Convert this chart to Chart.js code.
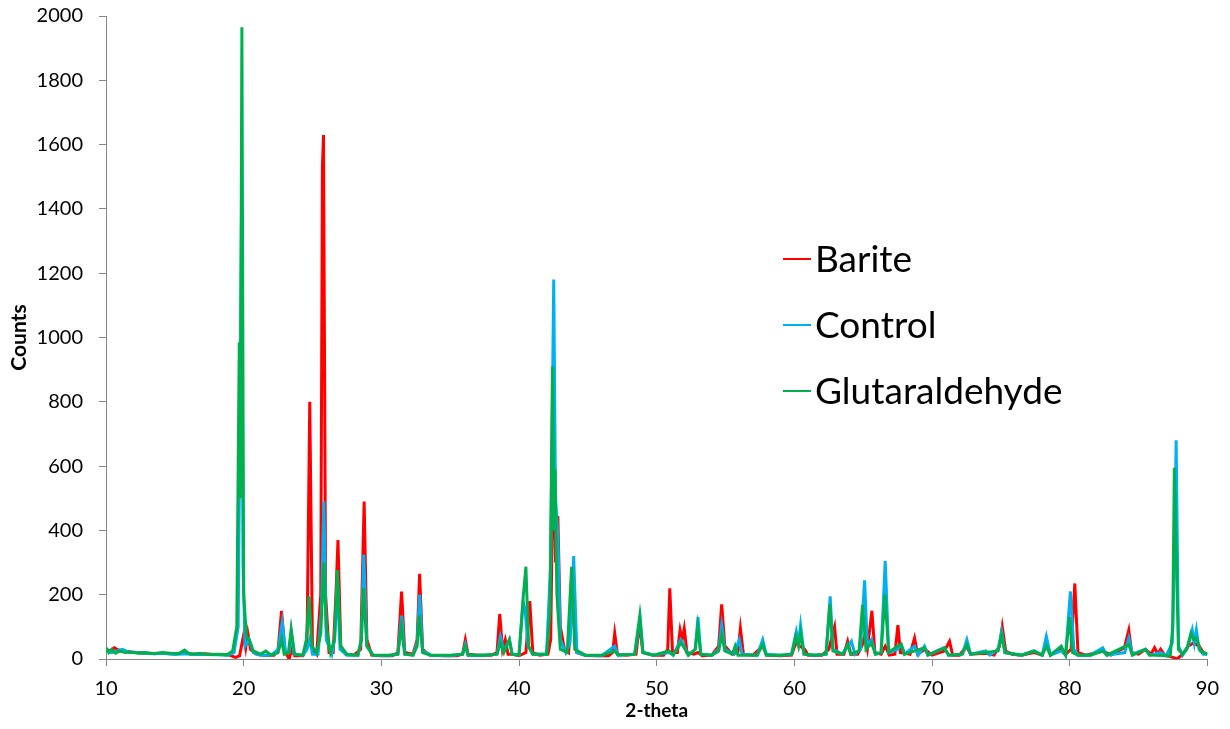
<!DOCTYPE html>
<html>
<head>
<meta charset="utf-8">
<script src="https://cdn.jsdelivr.net/npm/chart.js@4"></script>
<style>
  html, body { margin: 0; padding: 0; background: #fff; }
  #wrap { width: 1230px; height: 729px; position: relative; }
</style>
</head>
<body>
<div id="wrap"><canvas id="c" width="1230" height="729"></canvas></div>
<script>
// ---- Data (2-theta, counts) ----
const seriesNames = ["Barite", "Control", "Glutaraldehyde"];
const seriesColors = ["#FF0000", "#00B0F0", "#00B050"];
const xTickLabels = [10, 20, 30, 40, 50, 60, 70, 80, 90];
const yTickLabels = [0, 200, 400, 600, 800, 1000, 1200, 1400, 1600, 1800, 2000];

const barite = [
  [10.0,30],[10.3,25],[10.6,35],[10.9,28],[11.3,25],[11.8,22],[12.3,20],[12.8,18],[13.4,17],[14.0,18],
  [14.6,16],[15.2,17],[15.8,18],[16.5,15],[17.2,16],[17.8,14],[18.5,14],[19.0,12],[19.4,5],[19.7,10],
  [20.0,75],[20.15,35],[20.3,80],[20.5,30],[20.9,15],[21.5,12],[22.2,12],[22.5,30],[22.75,150],[23.0,25],
  [23.3,0],[23.5,30],[23.7,10],[24.3,10],[24.6,40],[24.8,800],[25.0,30],[25.3,15],[25.6,200],[25.72,1530],
  [25.8,1630],[25.95,200],[26.2,20],[26.5,20],[26.7,200],[26.85,370],[27.05,40],[27.4,15],[28.0,12],[28.5,30],
  [28.75,490],[28.95,60],[29.3,12],[30.0,10],[30.8,10],[31.2,20],[31.47,210],[31.7,20],[32.3,15],[32.6,60],
  [32.78,265],[33.0,30],[33.5,12],[34.5,10],[35.5,10],[35.9,15],[36.1,60],[36.3,15],[37.0,12],[38.0,12],
  [38.4,20],[38.6,140],[38.8,30],[39.0,60],[39.2,15],[39.5,15],[40.0,10],[40.5,20],[40.78,180],[41.0,20],
  [41.5,12],[42.1,15],[42.3,60],[42.5,700],[42.65,300],[42.82,445],[43.0,100],[43.3,30],[43.6,20],[43.95,200],
  [44.2,20],[44.8,12],[45.5,10],[46.5,10],[46.8,20],[46.95,80],[47.15,15],[47.8,12],[48.5,15],[48.75,110],
  [49.0,20],[49.7,12],[50.5,12],[50.8,30],[50.95,220],[51.15,20],[51.5,20],[51.7,90],[51.85,60],[52.0,95],
  [52.2,20],[52.7,15],[53.0,20],[53.3,10],[54.0,12],[54.5,40],[54.72,170],[54.95,40],[55.5,15],[55.9,20],
  [56.08,95],[56.3,15],[57.0,12],[57.7,40],[58.0,12],[59.0,10],[59.8,12],[60.1,50],[60.4,40],[60.75,30],
  [61.0,12],[62.0,12],[62.5,30],[62.92,100],[63.1,15],[63.6,15],[63.87,55],[64.1,15],[64.6,15],[64.9,40],
  [65.1,70],[65.3,30],[65.63,150],[65.85,20],[66.3,15],[66.6,40],[66.9,12],[67.3,15],[67.52,105],[67.7,20],
  [68.4,15],[68.73,65],[68.95,15],[69.5,30],[70.0,12],[70.9,25],[71.27,55],[71.5,12],[72.0,12],[72.5,40],
  [72.8,15],[73.9,18],[74.5,12],[74.9,40],[75.1,100],[75.35,25],[75.8,15],[76.5,12],[77.4,20],[78.0,12],
  [78.3,50],[78.6,12],[79.38,35],[79.7,15],[80.1,30],[80.37,235],[80.6,20],[81.2,12],[82.4,25],[83.0,12],
  [83.97,35],[84.29,90],[84.5,20],[85.0,15],[85.5,30],[85.9,15],[86.16,35],[86.4,15],[86.6,30],[86.9,12],
  [87.5,5],[87.8,0],[88.2,15],[88.6,40],[89.0,50],[89.4,40],[89.7,20],[90.0,15]
];

const control = [
  [10.0,25],[10.4,20],[10.8,25],[11.2,30],[11.6,22],[12.2,20],[12.8,18],[13.5,16],[14.2,18],[15.0,14],
  [15.8,16],[16.5,14],[17.2,14],[18.0,13],[18.8,12],[19.3,20],[19.6,100],[19.75,850],[19.85,1440],[19.95,300],
  [20.1,40],[20.4,60],[20.7,20],[21.2,12],[22.0,12],[22.5,30],[22.8,115],[23.05,20],[23.3,20],[23.45,85],
  [23.65,15],[24.3,12],[24.6,30],[24.8,60],[25.0,15],[25.4,15],[25.65,150],[25.82,490],[26.0,60],[26.4,15],
  [26.6,60],[26.8,230],[27.0,30],[27.5,12],[28.3,12],[28.55,60],[28.72,325],[28.95,40],[29.4,12],[30.5,10],
  [31.2,15],[31.47,135],[31.7,15],[32.3,12],[32.6,50],[32.78,200],[33.0,25],[33.6,12],[35.0,10],[35.9,15],
  [36.1,45],[36.3,12],[37.5,12],[38.4,15],[38.65,70],[38.9,25],[39.3,60],[39.5,15],[40.0,12],[40.3,180],
  [40.45,150],[40.65,40],[41.0,15],[42.0,15],[42.3,300],[42.52,1180],[42.65,500],[42.82,380],[43.0,60],[43.4,20],
  [43.7,50],[43.97,320],[44.2,20],[44.8,12],[46.0,10],[46.95,40],[47.2,12],[48.4,15],[48.8,125],[49.0,20],
  [49.8,12],[50.9,20],[51.2,12],[51.75,60],[52.0,40],[52.3,12],[52.8,30],[53.0,130],[53.2,15],[54.0,12],
  [54.5,30],[54.72,105],[54.95,30],[55.6,15],[56.0,60],[56.2,15],[57.3,12],[57.7,60],[57.95,15],[59.0,12],
  [59.8,15],[60.14,85],[60.3,50],[60.45,105],[60.7,15],[61.5,12],[62.3,15],[62.6,195],[62.8,30],[63.5,15],
  [64.14,55],[64.4,15],[64.8,30],[65.1,245],[65.3,40],[65.6,60],[65.9,15],[66.3,20],[66.6,305],[66.85,20],
  [67.5,30],[67.76,45],[68.0,15],[68.73,40],[69.0,12],[69.45,40],[69.7,12],[70.9,35],[71.2,12],[72.2,15],
  [72.53,60],[72.8,15],[73.9,25],[74.2,12],[74.8,30],[75.05,85],[75.3,20],[76.5,12],[77.4,25],[78.0,12],
  [78.3,70],[78.6,12],[79.38,25],[79.7,12],[80.05,210],[80.3,30],[80.6,12],[81.5,12],[82.4,35],[82.7,12],
  [84.0,20],[84.29,65],[84.55,15],[85.5,30],[85.8,12],[86.6,20],[87.0,10],[87.45,50],[87.6,300],[87.73,680],
  [87.9,40],[88.2,12],[88.6,40],[88.9,90],[89.05,50],[89.2,90],[89.4,30],[89.7,15],[90.0,15]
];

const glutaraldehyde = [
  [10.0,35],[10.2,20],[10.4,30],[10.7,18],[11.0,25],[11.4,20],[11.8,22],[12.3,18],[12.9,20],[13.5,16],
  [14.1,20],[14.7,18],[15.3,17],[15.7,28],[16.1,15],[16.8,17],[17.5,14],[18.2,15],[18.8,13],[19.2,25],
  [19.5,100],[19.68,985],[19.75,500],[19.87,1965],[20.0,200],[20.2,70],[20.4,60],[20.7,25],[21.2,15],[21.6,25],
  [22.0,12],[22.5,20],[22.75,60],[22.95,15],[23.25,20],[23.45,92],[23.7,15],[24.3,12],[24.55,60],[24.75,195],
  [24.95,40],[25.3,20],[25.6,80],[25.82,300],[26.0,100],[26.3,20],[26.6,60],[26.8,277],[27.05,40],[27.5,15],
  [28.3,12],[28.55,60],[28.7,220],[28.95,40],[29.4,12],[30.5,12],[31.2,15],[31.45,100],[31.7,15],[32.3,12],
  [32.6,40],[32.75,135],[33.0,20],[33.6,12],[35.0,12],[35.9,15],[36.1,40],[36.3,12],[37.5,12],[38.4,15],
  [38.65,50],[38.9,20],[39.3,60],[39.5,15],[40.0,12],[40.3,190],[40.5,287],[40.7,40],[41.0,15],[42.0,15],
  [42.25,150],[42.43,910],[42.55,400],[42.62,590],[42.75,200],[43.0,30],[43.5,20],[43.82,287],[44.05,30],[44.8,12],
  [46.0,12],[46.95,25],[47.2,12],[48.4,15],[48.77,134],[49.0,20],[49.8,12],[50.9,25],[51.2,12],[51.75,50],
  [52.0,35],[52.3,12],[52.8,30],[52.98,100],[53.2,15],[54.0,12],[54.5,25],[54.72,75],[54.95,25],[55.5,15],
  [55.7,40],[55.9,12],[57.3,12],[57.7,45],[57.95,12],[59.0,12],[59.8,15],[60.1,70],[60.3,40],[60.45,80],
  [60.7,15],[61.5,12],[62.3,15],[62.58,170],[62.8,25],[63.5,15],[63.87,45],[64.1,15],[64.7,25],[64.95,168],
  [65.2,30],[65.6,50],[65.9,15],[66.3,20],[66.58,200],[66.85,20],[67.5,40],[67.76,45],[68.0,15],[69.45,35],
  [69.7,12],[70.9,35],[71.2,12],[72.2,15],[72.53,45],[72.8,15],[74.8,25],[75.05,75],[75.3,20],[76.5,12],
  [77.4,25],[78.0,12],[78.3,40],[78.6,12],[79.38,40],[79.7,12],[79.98,130],[80.2,20],[80.6,12],[81.5,12],
  [82.4,25],[82.7,12],[84.29,45],[84.55,12],[85.5,30],[85.8,12],[87.3,10],[87.48,100],[87.6,595],[87.75,300],
  [87.9,30],[88.2,15],[88.5,30],[88.8,80],[89.0,60],[89.2,65],[89.5,25],[90.0,15]
];

const seriesData = [barite, control, glutaraldehyde];

// ---- Chart ----
const AXIS_GRAY = "#868686";
const FONT = "Lato, 'Liberation Sans', sans-serif";

const legendPlugin = {
  id: "inPlotLegend",
  afterDraw(chart) {
    const ctx = chart.ctx;
    const rows = [259, 325, 391];
    ctx.save();
    chart.data.datasets.forEach((ds, i) => {
      const y = rows[i];
      ctx.strokeStyle = ds.borderColor;
      ctx.lineWidth = 2;
      ctx.beginPath();
      ctx.moveTo(783, y);
      ctx.lineTo(811, y);
      ctx.stroke();
      ctx.fillStyle = "#000";
      ctx.font = "37px " + FONT;
      ctx.textBaseline = "middle";
      ctx.textAlign = "left";
      ctx.fillText(ds.label, 815, y + 1);
    });
    ctx.restore();
  }
};

new Chart(document.getElementById("c"), {
  type: "line",
  data: {
    datasets: seriesNames.map((name, i) => ({
      label: name,
      data: seriesData[i].map(p => ({ x: p[0], y: p[1] })),
      borderColor: seriesColors[i],
      backgroundColor: seriesColors[i],
      borderWidth: 3,
      pointRadius: 0,
      tension: 0,
      fill: false,
      order: seriesNames.length - i
    }))
  },
  options: {
    responsive: false,
    animation: false,
    events: [],
    layout: { padding: { left: 0, right: 22, top: 16, bottom: 0 } },
    plugins: {
      legend: { display: false },
      tooltip: { enabled: false }
    },
    scales: {
      x: {
        type: "linear",
        min: xTickLabels[0],
        max: xTickLabels[xTickLabels.length - 1],
        afterBuildTicks: (s) => { s.ticks = xTickLabels.map(v => ({ value: v })); },
        afterFit: (s) => { s.height = 70; },
        grid: { display: true, drawOnChartArea: false, drawTicks: true, tickLength: 7, color: AXIS_GRAY },
        border: { display: true, color: AXIS_GRAY, width: 1 },
        ticks: { color: "#000", padding: 11, font: { family: FONT, size: 20 }, maxRotation: 0, callback: (v) => String(v) },
        title: { display: true, text: "2-theta", color: "#000", font: { family: FONT, size: 19, weight: "bold" }, padding: { top: 0, bottom: 7 } }
      },
      y: {
        type: "linear",
        min: yTickLabels[0],
        max: yTickLabels[yTickLabels.length - 1],
        afterBuildTicks: (s) => { s.ticks = yTickLabels.map(v => ({ value: v })); },
        afterFit: (s) => { s.width = 106; s.paddingTop = 0; s.paddingBottom = 0; },
        grid: { display: true, drawOnChartArea: false, drawTicks: true, tickLength: 7, color: AXIS_GRAY },
        border: { display: true, color: AXIS_GRAY, width: 1 },
        ticks: { color: "#000", padding: 16, font: { family: FONT, size: 20 }, callback: (v) => String(v) },
        title: { display: true, text: "Counts", color: "#000", font: { family: FONT, size: 21, weight: "bold" }, padding: { top: 7, bottom: 0 } }
      }
    }
  },
  plugins: [legendPlugin]
});
</script>
</body>
</html>
